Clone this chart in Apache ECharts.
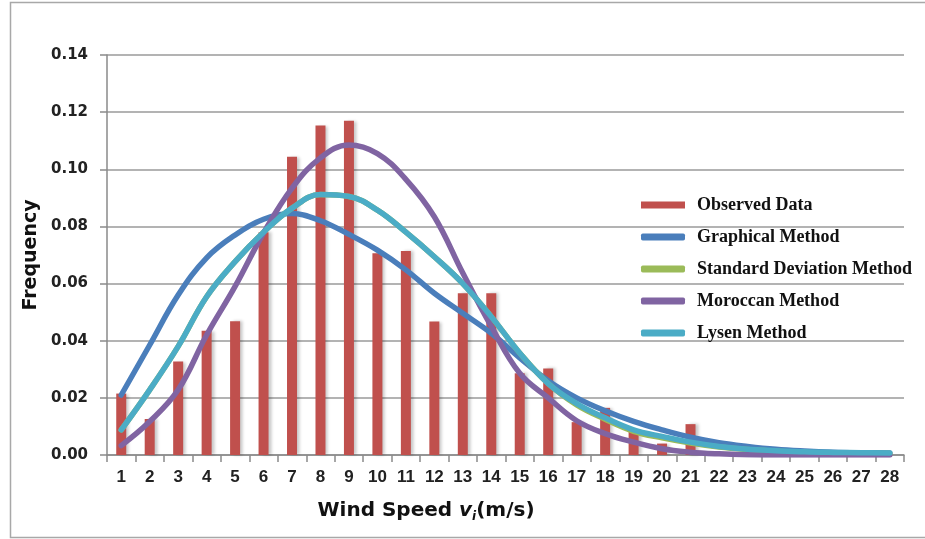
<!DOCTYPE html>
<html>
<head>
<meta charset="utf-8">
<script src="https://cdn.jsdelivr.net/npm/echarts@6/dist/echarts.min.js"></script>
<style>
  html, body { margin: 0; padding: 0; background: #fff; }
</style>
</head>
<body>
<div id="main" style="width:925px;height:539px;"></div>
<script>
// wind speed bins (m/s)
var windSpeed = ['1','2','3','4','5','6','7','8','9','10','11','12','13','14',
                 '15','16','17','18','19','20','21','22','23','24','25','26','27','28'];
var yTicks = [0, 0.02, 0.04, 0.06, 0.08, 0.10, 0.12, 0.14];

var observed = [0.0215, 0.0126, 0.0327, 0.0435, 0.0468, 0.078, 0.1044, 0.1153, 0.117, 0.0706,
                0.0714, 0.0467, 0.0566, 0.0566, 0.0286, 0.0303, 0.0115, 0.0165, 0.0085, 0.0040,
                0.0108, 0, 0, 0, 0, 0, 0, 0];
var graphical = [0.021, 0.0385, 0.056, 0.069, 0.077, 0.0825, 0.0845, 0.082, 0.0772, 0.0717,
                 0.0648, 0.0566, 0.0496, 0.0426, 0.034, 0.026, 0.020, 0.0155, 0.0118, 0.0088,
                 0.0062, 0.0043, 0.003, 0.002, 0.0014, 0.001, 0.0008, 0.0007];
var stdDev = [0.0088, 0.0228, 0.038, 0.0554, 0.0677, 0.078, 0.0864, 0.0912, 0.0905, 0.0857,
              0.078, 0.0694, 0.060, 0.0484, 0.0357, 0.025, 0.0175, 0.0125, 0.0083, 0.0060,
              0.0042, 0.0028, 0.0019, 0.0013, 0.0009, 0.0007, 0.0006, 0.0005];
var moroccan = [0.0033, 0.0117, 0.0228, 0.042, 0.059, 0.0777, 0.0934, 0.104, 0.1085, 0.1055,
                0.0965, 0.0834, 0.0637, 0.045, 0.0286, 0.020, 0.012, 0.0075, 0.0045, 0.0022,
                0.001, 0.0004, 0.0001, 0, 0, 0, 0, 0];
var lysen = [0.0088, 0.0228, 0.038, 0.0554, 0.0677, 0.078, 0.0864, 0.0912, 0.0905, 0.0857,
             0.078, 0.0694, 0.060, 0.0484, 0.0357, 0.025, 0.018, 0.013, 0.0088, 0.0065,
             0.0045, 0.003, 0.002, 0.0015, 0.0011, 0.0009, 0.0008, 0.0007];

var chart = echarts.init(document.getElementById('main'), null, { renderer: 'canvas' });

function curve(name, data, color) {
    return {
        name: name,
        type: 'line',
        data: data,
        smooth: 0.4,
        symbol: 'none',
        color: color,
        lineStyle: { width: 5.5, color: color, cap: 'round' }
    };
}

var option = {
    animation: false,
    backgroundColor: '#fff',
    grid: { left: 107, right: 21, top: 55, bottom: 84 },
    legend: {
        orient: 'vertical',
        left: 636,
        top: 191,
        itemWidth: 44,
        itemHeight: 7,
        itemGap: 14,
        textStyle: {
            fontFamily: 'Liberation Serif',
            fontWeight: 'bold',
            fontSize: 18,
            lineHeight: 18,
            padding: [0, 0, 0, 7],
            color: '#111'
        },
        data: [
            { name: 'Observed Data', icon: 'rect' },
            { name: 'Graphical Method', icon: 'roundRect' },
            { name: 'Standard Deviation Method', icon: 'roundRect' },
            { name: 'Moroccan Method', icon: 'roundRect' },
            { name: 'Lysen Method', icon: 'roundRect' }
        ]
    },
    xAxis: {
        type: 'category',
        data: windSpeed,
        boundaryGap: true,
        axisLine: { lineStyle: { color: '#8a8a8a', width: 1.5 } },
        axisTick: { show: true, length: 7, lineStyle: { color: '#8a8a8a', width: 1.5 } },
        axisLabel: {
            margin: 14,
            fontFamily: 'Liberation Sans',
            fontWeight: 'bold',
            fontSize: 17,
            color: '#222'
        }
    },
    yAxis: {
        type: 'value',
        min: yTicks[0],
        max: yTicks[yTicks.length - 1],
        interval: 0.02,
        name: 'Frequency',
        nameLocation: 'middle',
        nameGap: 62,
        nameTextStyle: {
            fontFamily: 'DejaVu Sans',
            fontWeight: 'bold',
            fontSize: 19,
            color: '#111'
        },
        axisLine: { show: true, lineStyle: { color: '#8a8a8a', width: 1.5 } },
        axisTick: { show: true, length: 7, lineStyle: { color: '#8a8a8a', width: 1.5 } },
        splitLine: { lineStyle: { color: '#9a9a9a', width: 1.5 } },
        axisLabel: {
            margin: 19,
            fontFamily: 'DejaVu Sans',
            fontWeight: 'bold',
            fontSize: 15,
            color: '#222',
            formatter: function (v) { return v.toFixed(2); }
        }
    },
    graphic: [
        {
            type: 'rect',
            shape: { x: 10.5, y: 2.5, width: 1000, height: 535 },
            style: { fill: 'none', stroke: '#a8a8a8', lineWidth: 1.5 },
            silent: true
        },
        {
            type: 'text',
            x: 426,
            y: 511,
            style: {
                text: 'Wind Speed {v|v}{i|i}(m/s)',
                align: 'center',
                verticalAlign: 'middle',
                fontFamily: 'DejaVu Sans',
                fontWeight: 'bold',
                fontSize: 20,
                lineHeight: 24,
                fill: '#111',
                rich: {
                    v: { fontFamily: 'DejaVu Sans', fontWeight: 'bold', fontStyle: 'italic', fontSize: 20, lineHeight: 24 },
                    i: { fontFamily: 'DejaVu Sans', fontWeight: 'bold', fontStyle: 'italic', fontSize: 12, lineHeight: 12, verticalAlign: 'bottom' }
                }
            }
        }
    ],
    series: [
        {
            name: 'Observed Data',
            type: 'bar',
            data: observed,
            barWidth: 10,
            color: '#c0504d',
            itemStyle: {
                color: '#c0504d',
                shadowColor: 'rgba(0,0,0,0.22)',
                shadowOffsetX: 3,
                shadowBlur: 3
            }
        },
        curve('Graphical Method', graphical, '#4a7ebb'),
        curve('Standard Deviation Method', stdDev, '#9bbb59'),
        curve('Moroccan Method', moroccan, '#8064a2'),
        curve('Lysen Method', lysen, '#4bacc6')
    ]
};

chart.setOption(option);
</script>
</body>
</html>
